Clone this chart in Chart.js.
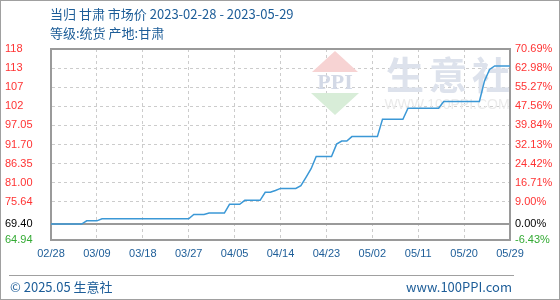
<!DOCTYPE html>
<html lang="zh">
<head>
  <meta charset="UTF-8" />
  <title>当归 甘肃 市场价</title>
  <script src="https://cdn.jsdelivr.net/npm/chart.js"></script>
  <style>
    body {
      margin: 0;
      background: #fff;
    }
    .wrap {
      position: relative;
      width: 560px;
      height: 300px;
      font-family: 'Noto Sans CJK SC', 'Noto Sans', sans-serif;
      color: #1d5d98;
    }
    .frame {
      position: absolute;
      top: 0; left: 0; right: 0; bottom: 0;
      border: 1px solid #a0a0a0;
      box-sizing: border-box;
      pointer-events: none;
    }
    canvas {
      position: absolute;
      top: 0; left: 0;
    }
    .title {
      position: absolute;
      left: 50px;
      font-size: 13px;
      line-height: 18px;
      white-space: nowrap;
    }
    .footer-line {
      position: absolute;
      left: 9px;
      width: 505px;
      top: 275px;
      border-top: 1px solid #a0a0a0;
    }
    .footer {
      position: absolute;
      top: 278px;
      font-size: 13px;
      line-height: 18px;
    }
  </style>
</head>
<body>
  <div class="wrap">
    <canvas id="priceChart" width="560" height="300"></canvas>
    <div class="title" style="top:5px;">当归 甘肃 市场价 2023-02-28 - 2023-05-29</div>
    <div class="title" style="top:24px;">等级:统货 产地:甘肃</div>
    <div class="footer-line"></div>
    <div class="footer" style="left:10px;">© 2025.05 生意社</div>
    <div class="footer" style="right:48px;">www.100PPI.com</div>
    <div class="frame"></div>
  </div>

  <script>
    // daily price, 2023-02-28 .. 2023-05-29 (day 0..90)
    const prices = [
      69.40, 69.40, 69.40, 69.40, 69.40, 69.40, 69.40,
      70.30, 70.30, 70.30,
      70.90, 70.90, 70.90, 70.90, 70.90, 70.90, 70.90, 70.90, 70.90,
      70.90, 70.90, 70.90, 70.90, 70.90, 70.90, 70.90, 70.90, 70.90,
      72.10, 72.10, 72.10,
      72.50, 72.50, 72.50, 72.50,
      74.95, 74.95, 74.95,
      76.05, 76.05, 76.05, 76.05,
      78.30, 78.30,
      78.80,
      79.40, 79.40, 79.40, 79.40,
      80.15, 82.50, 84.90,
      88.35, 88.35, 88.35, 88.35,
      91.80,
      92.65, 92.65,
      93.90, 93.90, 93.90, 93.90, 93.90, 93.90,
      98.75, 98.75, 98.75, 98.75, 98.75,
      101.85, 101.85, 101.85, 101.85, 101.85, 101.85, 101.85,
      103.75, 103.75, 103.75, 103.75, 103.75, 103.75, 103.75, 103.75,
      109.50, 112.70,
      113.70, 113.70, 113.70, 113.70
    ];

    const xTickDays = [0, 9, 18, 27, 36, 45, 54, 63, 72, 81, 90];
    const xTickLabels = ['02/28', '03/09', '03/18', '03/27', '04/05', '04/14', '04/23', '05/02', '05/11', '05/20', '05/29'];

    const yTickValues = [64.94, 69.40, 75.64, 80.99, 86.34, 91.69, 97.04, 102.39, 107.74, 113.09, 118.44];
    const yTickLabels = ['64.94', '69.40', '75.64', '81.00', '86.35', '91.70', '97.05', '102', '107', '113', '118'];
    const pctTickLabels = ['-6.43%', '0.00%', '9.00%', '16.71%', '24.42%', '32.13%', '39.84%', '47.56%', '55.27%', '62.98%', '70.69%'];

    const BASE_INDEX = 1;
    const RED = '#ff3333';
    const GREEN = '#33aa33';
    const BORDER = '#9a9a9a';
    const GRID = '#cccccc';

    function labelColor(ctx) {
      if (ctx.index === BASE_INDEX) return '#000000';
      if (ctx.index < BASE_INDEX) return GREEN;
      return RED;
    }

    // faint site watermark behind the line
    const watermark = {
      id: 'watermark',
      beforeDatasetsDraw(chart) {
        const c = chart.ctx;
        c.save();
        // red triangle
        c.fillStyle = '#f7d3d3';
        c.beginPath();
        c.moveTo(335, 51); c.lineTo(358, 72); c.lineTo(312, 72);
        c.closePath(); c.fill();
        // green triangle
        c.fillStyle = '#d8edd8';
        c.beginPath();
        c.moveTo(311, 93); c.lineTo(359, 93); c.lineTo(335, 115);
        c.closePath(); c.fill();
        c.fillStyle = '#d3d9e6';
        c.font = 'bold 22px "Liberation Serif", serif';
        c.textAlign = 'center';
        c.textBaseline = 'middle';
        c.fillText('PPI', 335, 83);
        c.font = 'bold 38px "Noto Sans CJK SC", sans-serif';
        c.fillStyle = '#dde2ec';
        c.fillText('生', 405, 75);
        c.fillText('意', 448, 75);
        c.fillText('社', 491, 75);
        c.font = '14px "Liberation Sans", sans-serif';
        c.fillStyle = '#ebebeb';
        c.fillText('WWW.100PPI.COM', 447, 105);
        c.restore();
      }
    };

    new Chart(document.getElementById('priceChart'), {
      type: 'line',
      data: {
        datasets: [{
          data: prices.map((v, i) => ({ x: i, y: v })),
          borderColor: '#3b98d6',
          borderWidth: 1.5,
          pointRadius: 0,
          tension: 0,
          fill: false
        }]
      },
      options: {
        responsive: false,
        animation: false,
        events: [],
        layout: { padding: { top: 49, left: 5, right: 0, bottom: 0 } },
        plugins: {
          legend: { display: false },
          tooltip: { enabled: false }
        },
        scales: {
          x: {
            type: 'linear',
            min: 0,
            max: 90,
            afterBuildTicks: s => { s.ticks = xTickDays.map(v => ({ value: v })); },
            afterFit: s => { s.height = 60; },
            ticks: {
              color: '#1d5d98',
              font: { family: 'Liberation Sans', size: 11 },
              padding: 7,
              maxRotation: 0,
              autoSkip: false,
              callback: (v, i) => xTickLabels[i]
            },
            grid: {
              drawTicks: false,
              color: ctx => (ctx.index === 0 || ctx.index === xTickDays.length - 1) ? 'rgba(0,0,0,0)' : GRID,
              lineWidth: 1
            },
            border: { color: BORDER, width: 2, dash: [3, 3] }
          },
          y: {
            position: 'left',
            min: yTickValues[0],
            max: yTickValues[yTickValues.length - 1],
            afterBuildTicks: s => { s.ticks = yTickValues.map(v => ({ value: v })); },
            afterFit: s => { s.width = 46; },
            ticks: {
              color: labelColor,
              crossAlign: 'far',
              font: { family: 'Liberation Sans', size: 11 },
              padding: 5,
              callback: (v, i) => yTickLabels[i]
            },
            grid: {
              drawTicks: false,
              color: ctx => {
                if (ctx.index === 0) return 'rgba(0,0,0,0)';
                if (ctx.index === BASE_INDEX || ctx.index === yTickValues.length - 1) return BORDER;
                return GRID;
              },
              lineWidth: ctx => (ctx.index === BASE_INDEX || ctx.index === yTickValues.length - 1) ? 2 : 1
            },
            border: {
              color: BORDER,
              width: 2,
              dash: ctx => (ctx.index === BASE_INDEX || ctx.index === yTickValues.length - 1) ? [] : [3, 3]
            }
          },
          y2: {
            position: 'right',
            min: yTickValues[0],
            max: yTickValues[yTickValues.length - 1],
            afterBuildTicks: s => { s.ticks = yTickValues.map(v => ({ value: v })); },
            afterFit: s => { s.width = 50; },
            ticks: {
              color: labelColor,
              font: { family: 'Liberation Sans', size: 11 },
              padding: 5,
              callback: (v, i) => pctTickLabels[i]
            },
            grid: { display: false, drawTicks: false },
            border: { color: BORDER, width: 2 }
          }
        }
      },
      plugins: [watermark]
    });
  </script>
</body>
</html>
